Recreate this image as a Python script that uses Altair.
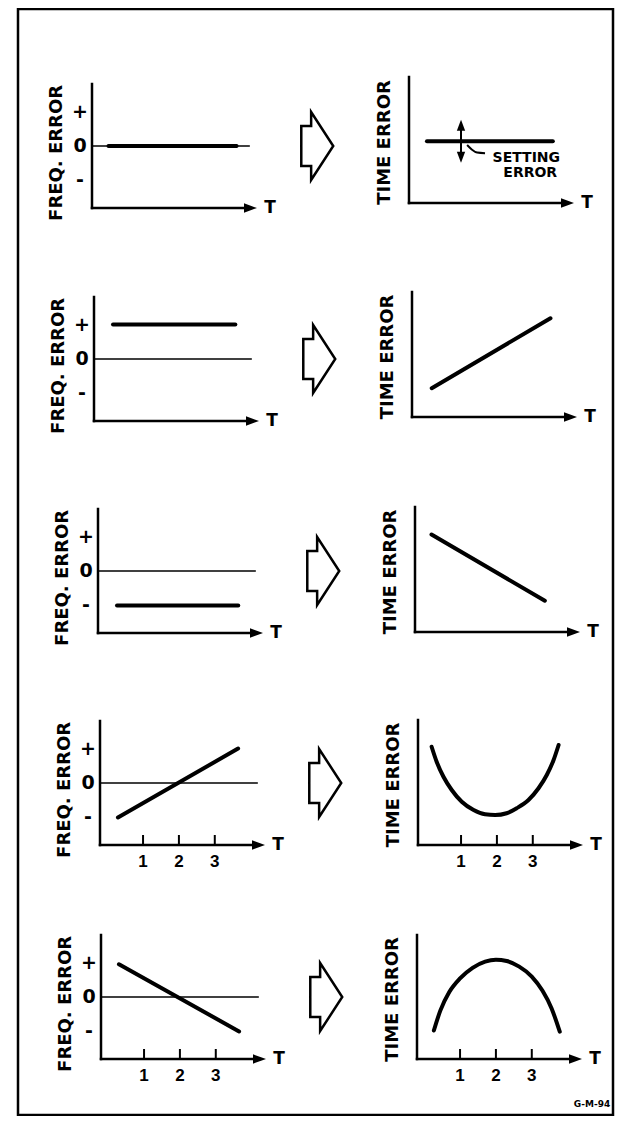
import altair as alt
import pandas as pd

# ---------------- data ----------------
# frequency-error traces (left column), one list per row
freq_T = [[0.26, 3.83], [0.33, 3.74], [0.33, 3.71], [0.30, 3.65], [0.30, 3.65]]
freq_F = [[0.0, 0.0], [1.0, 1.0], [-1.0, -1.0], [-1.0, 1.0], [0.95, -1.0]]

# time-error traces (right column), one list per row
time_T = [
    [0.30, 3.81],
    [0.35, 3.66],
    [0.26, 3.42],
    [0.18, 0.32, 0.51, 0.74, 1.02, 1.35, 1.67, 1.95, 2.27, 2.55, 2.88, 3.16, 3.39, 3.58, 3.72],
    [0.27, 0.45, 0.70, 1.00, 1.35, 1.70, 2.00, 2.30, 2.65, 3.00, 3.30, 3.55, 3.78],
]
time_E = [
    [0.49, 0.49],
    [0.23, 0.79],
    [0.78, 0.25],
    [0.786, 0.666, 0.546, 0.44, 0.346, 0.28, 0.246, 0.24, 0.254, 0.294, 0.36, 0.454, 0.56, 0.68, 0.80],
    [0.23, 0.39, 0.54, 0.65, 0.735, 0.785, 0.80, 0.79, 0.745, 0.665, 0.55, 0.41, 0.22],
]

f_tick_labels = ["+", "0", "-"]
f_tick_values = [1, 0, -1]
t_tick_values = [1, 2, 3]
t_tick_rows = [3, 4]          # rows (0-based) with numbered T ticks
zero_line_end = 4.2

# "setting error" note in the first time-error panel
setting_T = 1.25
setting_E = [0.32, 0.66]
leader_T = [1.42, 1.55, 1.70, 1.92]
leader_E = [0.46, 0.425, 0.40, 0.395]
note_lines = ["SETTING", "ERROR"]
note_T = [3.07, 3.18]
note_E = [0.36, 0.24]
figure_id = "G-M-94"
figure_id_T = 4.68
figure_id_E = -0.36

# ---------------- layout ----------------
W, H = 595, 1106
T_MIN, T_MAX = -0.2, 4.4
F_MIN, F_MAX = -1.8, 1.8
E_MIN, E_MAX = 0.0, 1.0
PANEL_W = 165
LEFT_X0 = [74, 76, 80, 82, 83]
LEFT_ZERO = [137, 350, 562, 774, 988]
F_HALF = 62
RIGHT_X0 = [391, 394, 397, 400, 399]
RIGHT_BOT = [194, 408, 623, 836, 1050]
RIGHT_TOP = [68, 283, 498, 711, 926]
ARROW_T = 6.08

ARROW_HEAD = "M 0 0 L -1 -0.36 L -1 0.36 Z"
BLOCK_ARROW = ("M -0.47 -0.59 L -0.18 -0.59 L -0.18 -1 L 0.47 0 "
               "L -0.18 1 L -0.18 0.59 L -0.47 0.59 Z")
HEAD_UP = "M 0 0 L -0.38 1 L 0.38 1 Z"
HEAD_DOWN = "M 0 0 L -0.38 -1 L 0.38 -1 Z"

FONT = "DejaVu Sans"
NUM_FONT = "Liberation Sans"


def X(xs, f="x"):
    return alt.X(f"{f}:Q", scale=xs, axis=None)


def Y(ys, f="y"):
    return alt.Y(f"{f}:Q", scale=ys, axis=None)


def frame(xs, ys, lo, hi, title, title_y, title_dy, ticks):
    layers = []
    ax = pd.DataFrame({"x": [T_MIN, T_MIN], "y": [lo, lo],
                       "x2": [T_MIN, T_MAX - 0.17], "y2": [hi, lo]})
    layers.append(alt.Chart(ax).mark_rule(color="black", strokeWidth=2.5, strokeCap="square")
                  .encode(x=X(xs), y=Y(ys), x2="x2:Q", y2="y2:Q"))
    tip = pd.DataFrame({"x": [T_MAX], "y": [lo], "lab": ["T"]})
    layers.append(alt.Chart(tip).mark_point(shape=ARROW_HEAD, size=676, filled=True, color="black",
                                            opacity=1, strokeWidth=0)
                  .encode(x=X(xs), y=Y(ys)))
    layers.append(alt.Chart(tip).mark_text(font=FONT, fontSize=17, fontWeight="bold", dx=13,
                                           align="center", baseline="middle", color="black")
                  .encode(x=X(xs), y=Y(ys), text="lab:N"))
    tt = pd.DataFrame({"x": [T_MIN], "y": [title_y], "lab": [title]})
    layers.append(alt.Chart(tt).mark_text(font=FONT, fontSize=18, fontWeight="bold", angle=270,
                                          dy=title_dy, align="center", baseline="middle", color="black")
                  .encode(x=X(xs), y=Y(ys), text="lab:N"))
    if ticks:
        td = pd.DataFrame({"x": t_tick_values, "y": [lo] * len(t_tick_values),
                           "lab": [str(v) for v in t_tick_values]})
        layers.append(alt.Chart(td).mark_tick(orient="vertical", size=10, thickness=2, yOffset=-5,
                                              color="black", opacity=1)
                      .encode(x=X(xs), y=Y(ys)))
        layers.append(alt.Chart(td).mark_text(font=NUM_FONT, fontSize=17, fontWeight="bold", dy=17,
                                              align="center", baseline="middle", color="black")
                      .encode(x=X(xs), y=Y(ys), text="lab:N"))
    return layers


panels = []
for r in range(5):
    # ---- left: frequency error ----
    xs = alt.Scale(domain=[T_MIN, T_MAX], range=[LEFT_X0[r], LEFT_X0[r] + PANEL_W], nice=False, zero=False)
    ys = alt.Scale(domain=[F_MIN, F_MAX], range=[LEFT_ZERO[r] + F_HALF, LEFT_ZERO[r] - F_HALF],
                   nice=False, zero=False)
    L = frame(xs, ys, F_MIN, F_MAX, "FREQ. ERROR", -0.2, -35, r in t_tick_rows)
    z = pd.DataFrame({"x": [T_MIN], "x2": [zero_line_end], "y": [0.0]})
    L.append(alt.Chart(z).mark_rule(color="black", strokeWidth=1.5)
             .encode(x=X(xs), x2="x2:Q", y=Y(ys)))
    lab = pd.DataFrame({"x": [T_MIN] * 3, "y": f_tick_values, "lab": f_tick_labels})
    L.append(alt.Chart(lab).mark_text(font=FONT, fontSize=19, fontWeight="bold", dx=-12,
                                      align="center", baseline="middle", color="black")
             .encode(x=X(xs), y=Y(ys), text="lab:N"))
    d = pd.DataFrame({"x": freq_T[r], "y": freq_F[r]})
    L.append(alt.Chart(d).mark_line(color="black", strokeWidth=4, strokeCap="round")
             .encode(x=X(xs), y=Y(ys)))
    a = pd.DataFrame({"x": [ARROW_T], "y": [0.0]})
    L.append(alt.Chart(a).mark_point(shape=BLOCK_ARROW, size=4624, filled=False, color="black",
                                     strokeWidth=2.5, opacity=1)
             .encode(x=X(xs), y=Y(ys)))
    panels.append(alt.layer(*L))

    # ---- right: time error ----
    xs2 = alt.Scale(domain=[T_MIN, T_MAX], range=[RIGHT_X0[r], RIGHT_X0[r] + PANEL_W], nice=False, zero=False)
    ys2 = alt.Scale(domain=[E_MIN, E_MAX], range=[RIGHT_BOT[r], RIGHT_TOP[r]], nice=False, zero=False)
    R = frame(xs2, ys2, E_MIN, E_MAX, "TIME ERROR", 0.48, -24, r in t_tick_rows)
    d2 = pd.DataFrame({"x": time_T[r], "y": time_E[r]})
    R.append(alt.Chart(d2).mark_line(color="black", strokeWidth=4, strokeCap="round",
                                     interpolate="monotone")
             .encode(x=X(xs2), y=Y(ys2)))
    if r == 0:
        s = pd.DataFrame({"x": [setting_T], "y": [setting_E[0] + 0.03], "y2": [setting_E[1] - 0.03]})
        R.append(alt.Chart(s).mark_rule(color="black", strokeWidth=2)
                 .encode(x=X(xs2), y=Y(ys2), y2="y2:Q"))
        hu = pd.DataFrame({"x": [setting_T], "y": [setting_E[1]]})
        R.append(alt.Chart(hu).mark_point(shape=HEAD_UP, size=484, filled=True, color="black",
                                          opacity=1, strokeWidth=0)
                 .encode(x=X(xs2), y=Y(ys2)))
        hd = pd.DataFrame({"x": [setting_T], "y": [setting_E[0]]})
        R.append(alt.Chart(hd).mark_point(shape=HEAD_DOWN, size=484, filled=True, color="black",
                                          opacity=1, strokeWidth=0)
                 .encode(x=X(xs2), y=Y(ys2)))
        ld = pd.DataFrame({"x": leader_T, "y": leader_E})
        R.append(alt.Chart(ld).mark_line(color="black", strokeWidth=2, interpolate="monotone")
                 .encode(x=X(xs2), y=Y(ys2)))
        nt = pd.DataFrame({"x": note_T, "y": note_E, "lab": note_lines})
        R.append(alt.Chart(nt).mark_text(font=FONT, fontSize=14, fontWeight="bold",
                                         align="center", baseline="middle", color="black")
                 .encode(x=X(xs2), y=Y(ys2), text="lab:N"))
    if r == 4:
        gid = pd.DataFrame({"x": [figure_id_T], "y": [figure_id_E], "lab": [figure_id]})
        R.append(alt.Chart(gid).mark_text(font=FONT, fontSize=9, fontWeight="bold",
                                          align="center", baseline="middle", color="black")
                 .encode(x=X(xs2), y=Y(ys2), text="lab:N"))
    panels.append(alt.layer(*R))

chart = (
    alt.layer(*panels)
    .resolve_scale(x="independent", y="independent")
    .properties(width=W, height=H, padding={"left": 10, "top": 1, "right": 2, "bottom": 1},
                autosize=alt.AutoSizeParams(type="none"), background="white")
    .configure_view(stroke="black", strokeWidth=2.5)
)

chart.save("out.html", embed_options={"renderer": "svg", "actions": False})
